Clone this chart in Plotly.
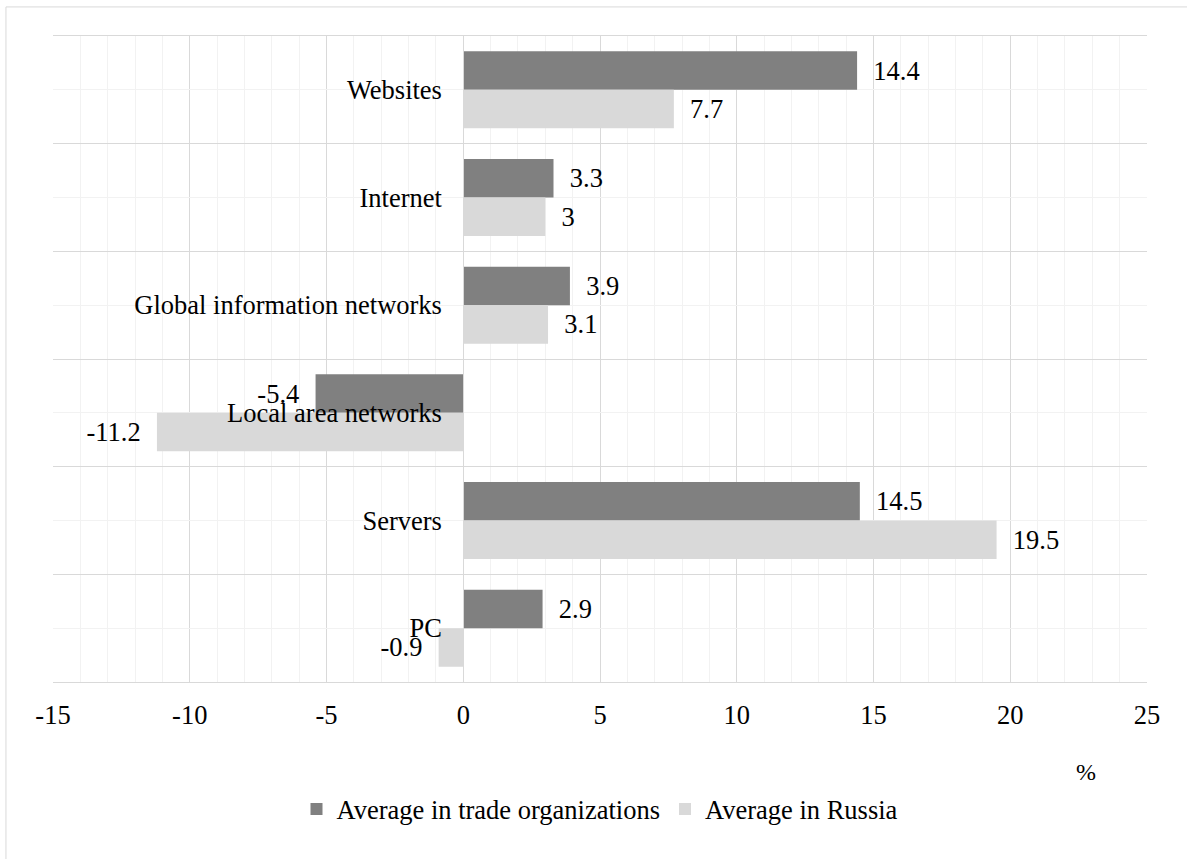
import plotly.graph_objects as go

categories = ["Websites", "Internet", "Global information networks",
              "Local area networks", "Servers", "PC"]
trade_values = [14.4, 3.3, 3.9, -5.4, 14.5, 2.9]
russia_values = [7.7, 3.0, 3.1, -11.2, 19.5, -0.9]
series_names = ["Average in trade organizations", "Average in Russia"]
x_ticks = [-15, -10, -5, 0, 5, 10, 15, 20, 25]

FONT = "Liberation Serif, Times New Roman, serif"
FS = 26.5
NB = "\u00a0\u00a0"

positions = list(range(len(categories)))


def labels(vals):
    out = []
    for v in vals:
        s = f"{v:g}"
        out.append(NB + s if v >= 0 else s + NB)
    return out


fig = go.Figure()
fig.add_trace(go.Bar(
    y=positions, x=trade_values, orientation="h", name=series_names[0],
    marker=dict(color="#808080", line=dict(width=0)),
    text=labels(trade_values), textposition="outside", cliponaxis=False,
    constraintext="none",
    textfont=dict(family=FONT, size=FS, color="#000000"),
))
fig.add_trace(go.Bar(
    y=positions, x=russia_values, orientation="h", name=series_names[1],
    marker=dict(color="#D9D9D9", line=dict(width=0)),
    text=labels(russia_values), textposition="outside", cliponaxis=False,
    constraintext="none",
    textfont=dict(family=FONT, size=FS, color="#000000"),
))

fig.update_layout(
    width=1187, height=859,
    margin=dict(l=53, r=40, t=36, b=177),
    paper_bgcolor="white", plot_bgcolor="white",
    barmode="group", bargap=0.285, bargroupgap=0,
    font=dict(family=FONT, size=FS, color="#000000"),
    showlegend=True,
    legend=dict(orientation="h", x=0.5, xanchor="center", y=-0.197,
                yanchor="middle", font=dict(family=FONT, size=FS),
                itemwidth=30, traceorder="normal"),
    xaxis=dict(
        range=[-15, 25], tickvals=x_ticks,
        ticktext=[str(v) for v in x_ticks], showgrid=True,
        gridcolor="#D9D9D9", gridwidth=1, zeroline=False,
        showline=True, mirror=True, linecolor="#D9D9D9", linewidth=1,
        ticks="", ticklabelstandoff=9,
        tickfont=dict(family=FONT, size=FS),
        minor=dict(dtick=1, tick0=0, showgrid=True, gridcolor="#F2F2F2",
                   gridwidth=1),
    ),
    yaxis=dict(
        type="linear", range=[len(categories) - 0.5, -0.5],
        tickvals=positions, ticktext=categories,
        showgrid=True, gridcolor="#F2F2F2", gridwidth=1,
        zeroline=False, showline=True, mirror=True, linecolor="#D9D9D9",
        ticks="", anchor="free", position=0.375, ticklabelstandoff=16,
        tickfont=dict(family=FONT, size=FS),
        minor=dict(tick0=0.5, dtick=1, showgrid=True, gridcolor="#D9D9D9",
                   gridwidth=1),
    ),
    annotations=[dict(text="%", xref="paper", yref="paper", x=0.944,
                      y=-0.139, xanchor="center", yanchor="middle",
                      showarrow=False, font=dict(family=FONT, size=24))],
    shapes=[dict(type="rect", xref="paper", yref="paper", x0=-0.043,
                 x1=1.3, y0=-0.5, y1=1.045,
                 line=dict(color="#D9D9D9", width=1), layer="below")],
)

fig.write_html("out.html")
